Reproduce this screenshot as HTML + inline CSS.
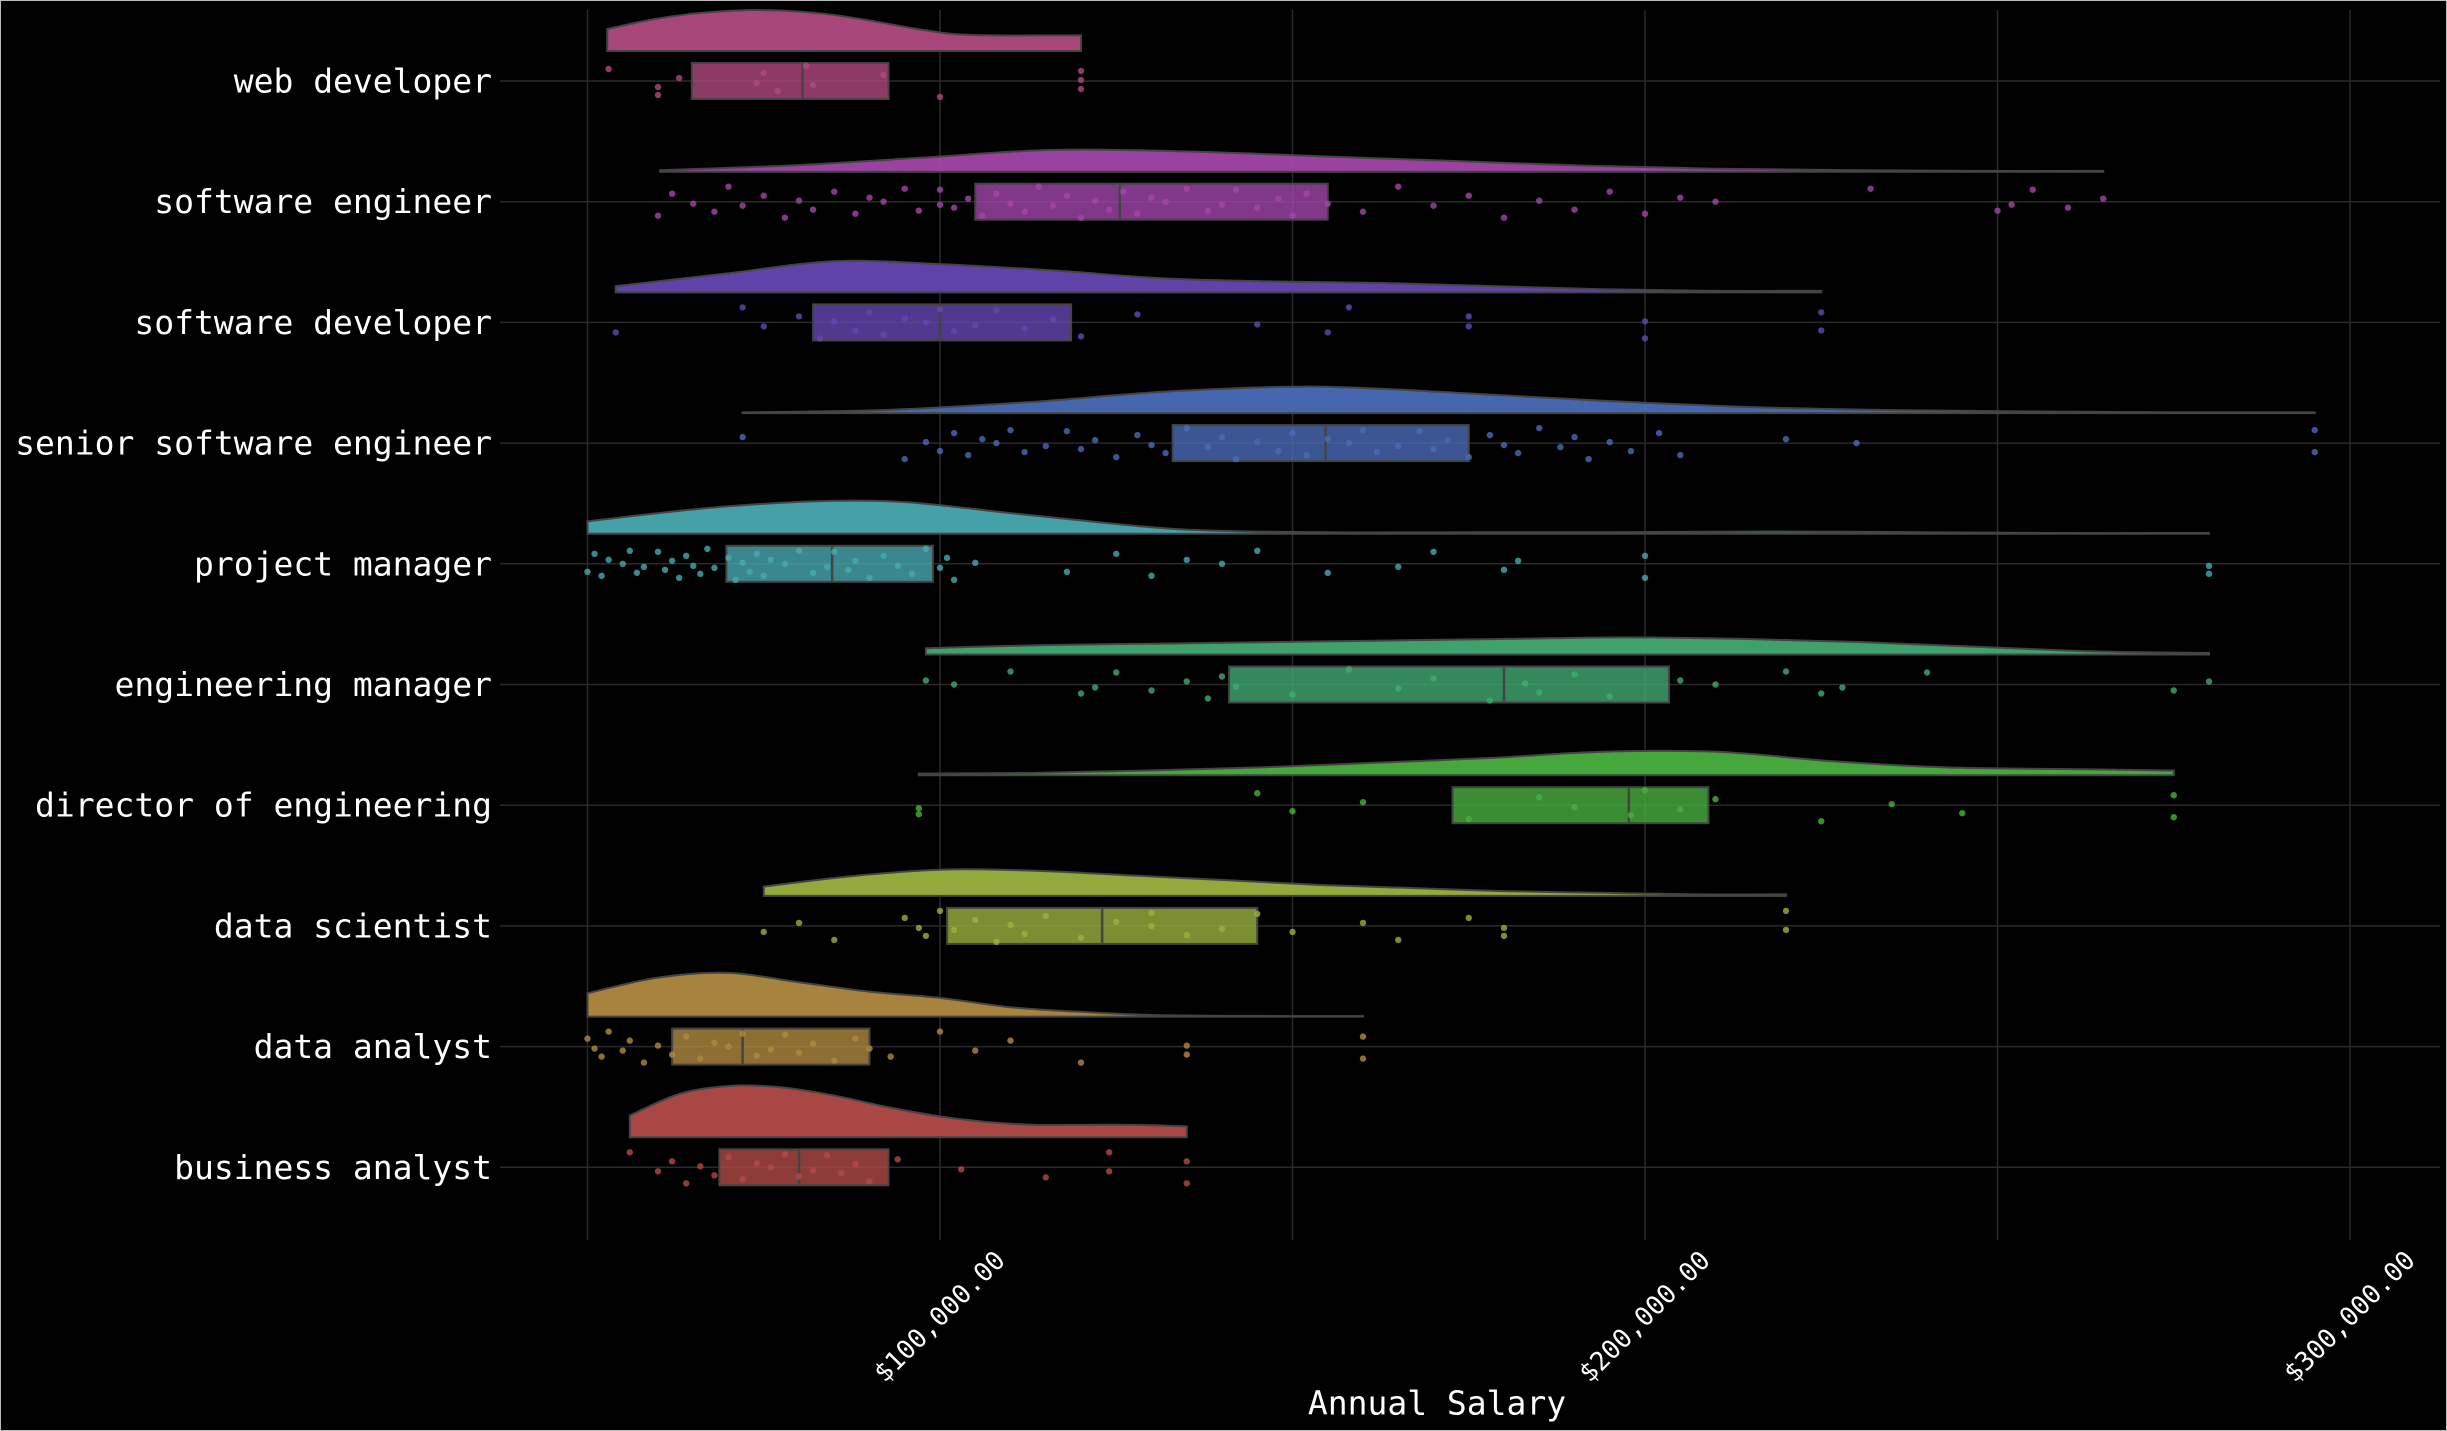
<!DOCTYPE html>
<html><head><meta charset="utf-8">
<style>
html,body{margin:0;padding:0;background:#000;}
svg{display:block;}
</style></head>
<body>
<svg id="chart" width="2447" height="1431" viewBox="0 0 2447 1431" xmlns="http://www.w3.org/2000/svg">
<rect x="0" y="0" width="2447" height="1431" fill="#000" stroke="#bbb" stroke-width="2"/>
<g id="grid"></g>
<g id="marks"></g>
<g id="axes"></g>
</svg>
<script>
const categories = ["web developer","software engineer","software developer","senior software engineer","project manager","engineering manager","director of engineering","data scientist","data analyst","business analyst"];
const colors = ["#b04a80","#a346aa","#6447b2","#4a6bb8","#49a9b0","#42aa72","#4ab040","#9bb23e","#b08a40","#b24b49"];
// box stats (thousand $)
const q1 = [64.8,105,82,133,69.7,141,172.7,101,62,68.7];
const medians = [80.5,125.5,100,154.7,84.7,180,197.7,123,72,80];
const q3 = [92.7,155,118.6,175,99,203.4,209,145,90,92.7];
// violin extents (thousand $)
const violinMin = [52.8,60.3,54,72,50,98,97,75,50,56];
const violinMax = [120,265,225,295,280,280,275,220,160,135];
// density heights (relative) at 12 evenly spaced points across each violin extent
const densities = [
 [14,20,24,26,26,24,20,15,11,10,10,10],
 [1,4,9,14,13,10,7,4,2,1,0.5,0.5],
 [4,12,20,18,14,9,7,6,4,2,1,1],
 [0.5,2,7,14,17,13,8,4,2,1,0.5,0.5],
 [8,18,21,12,3,1,1,1,1.5,1,0.5,0.5],
 [4,6,7,8,9,10,11,10,8,5,2,1],
 [1,1.5,3,5,8,11,15,15,9,5,4,3],
 [6,13,17,16,13,10,7,5,3,2,1,1],
 [15,25,28,22,16,12,6,3,1,0.5,0.3,0.3],
 [14,28,33,32,27,20,14,10,8,8,8,7]
];
// individual observations (thousand $)
const points = [
 [53,60,63,60,75,74,77,81,82,92,100,120,120,120],
 [60,62,65,68,70,72,75,78,80,82,85,88,90,92,95,97,100,100,102,104,106,108,110,112,114,116,118,120,122,124,126,128,130,132,135,138,140,142,145,148,150,152,155,160,165,170,175,180,185,190,195,200,205,210,232,250,252,255,260,265],
 [54,72,75,80,83,85,88,90,92,95,98,100,102,105,108,112,116,120,128,145,155,158,175,175,200,200,225,225],
 [72,95,98,100,102,104,106,108,110,112,115,118,120,122,125,128,130,132,135,138,140,142,145,148,150,152,155,158,160,162,165,168,170,172,175,178,180,182,185,188,190,192,195,198,202,205,220,230,295,295],
 [50,51,52,53,55,56,57,58,60,61,62,63,64,65,66,67,68,70,71,72,73,74,75,76,78,80,82,84,85,87,88,90,92,94,96,98,100,101,102,105,118,125,130,135,140,145,155,165,170,180,182,200,200,280,280],
 [98,102,110,120,122,125,130,135,138,140,142,150,158,165,170,178,183,185,190,195,205,210,220,225,228,240,275,280],
 [97,97,145,150,160,175,185,190,198,200,205,210,225,235,245,275,275],
 [75,80,85,95,97,98,100,102,105,108,110,112,115,120,125,130,130,135,140,145,150,160,165,175,180,180,220,220],
 [50,51,52,53,55,56,58,60,62,64,66,68,70,72,74,76,78,80,82,85,88,90,93,100,105,110,120,135,135,160,160],
 [56,60,62,64,66,68,70,72,74,76,78,80,82,84,86,88,90,94,103,115,124,124,135,135]
];
const xTicks = [100,200,300];
const xTickLabels = ["$100,000.00","$200,000.00","$300,000.00"];
const xGrid = [50,100,150,200,250,300];

const NS = "http://www.w3.org/2000/svg";
const X0 = 235, XS = 7.05;           // px per $1k
const x = v => X0 + v * XS;
const Y0 = 81, YS = 120.7;
const y = i => Y0 + i * YS;
const DENS_SCALE = 1.56;
const jitter = [-12,6,-3,14,-8,2,10,-15,4,-6,16,-1,8,-10,12,-4,0,-13,9,3];

function el(tag, attrs, parent){ const e=document.createElementNS(NS,tag); for(const k in attrs) e.setAttribute(k,attrs[k]); parent.appendChild(e); return e; }
const grid=document.getElementById('grid'), marks=document.getElementById('marks'), axes=document.getElementById('axes');

xGrid.forEach(v=>{
  const l=el('line',{x1:x(v),x2:x(v),y1:10,y2:1240,stroke:'#2a2a2a','stroke-width':1.5},grid);
  
  
});
categories.forEach((c,i)=>{
  const l=el('line',{x1:500,x2:2440,y1:y(i),y2:y(i),stroke:'#2a2a2a','stroke-width':1.5},grid);
  
  
});

function smoothPath(pts){
  let d='';
  for(let i=0;i<pts.length-1;i++){
    const p0=pts[Math.max(0,i-1)],p1=pts[i],p2=pts[i+1],p3=pts[Math.min(pts.length-1,i+2)];
    const c1x=p1[0]+(p2[0]-p0[0])/6,c1y=p1[1]+(p2[1]-p0[1])/6;
    const c2x=p2[0]-(p3[0]-p1[0])/6,c2y=p2[1]-(p3[1]-p1[1])/6;
    d+=` C${c1x},${c1y} ${c2x},${c2y} ${p2[0]},${p2[1]}`;
  }
  return d;
}

categories.forEach((c,i)=>{
  const g=el('g',{},marks);
  
  
  const base=y(i)-30, col=colors[i];
  const dens=densities[i], n=dens.length;
  const pts=dens.map((d,k)=>[x(violinMin[i]+(violinMax[i]-violinMin[i])*k/(n-1)), base-d*DENS_SCALE]);
  let d=`M${pts[0][0]},${base} L${pts[0][0]},${pts[0][1]}`+smoothPath(pts)+` L${pts[n-1][0]},${base} Z`;
  const v=el('path',{d:d,fill:col,'fill-opacity':0.95,stroke:'#444','stroke-width':2},g);
  
  
  const b=el('rect',{x:x(q1[i]),y:y(i)-18,width:x(q3[i])-x(q1[i]),height:36,fill:col,'fill-opacity':0.8,stroke:'#444','stroke-width':2},g);
  
  
  const m=el('line',{x1:x(medians[i]),x2:x(medians[i]),y1:y(i)-18,y2:y(i)+18,stroke:'#444','stroke-width':2.5},g);
  
  
  points[i].forEach((p,k)=>{
    const cc=el('circle',{cx:x(p),cy:y(i)+jitter[(k+i*3)%jitter.length],r:3.2,fill:col,'fill-opacity':0.8},g);
    
    
  });
  const t=el('text',{x:492,y:y(i),'text-anchor':'end','dominant-baseline':'central',fill:'#fff','font-size':33,'font-family':'"DejaVu Sans Mono","Liberation Mono",monospace'},axes);
  t.textContent=c;
  
  
});

xTicks.forEach((v,k)=>{
  const cx=x(v), cy=1317;
  const t=el('text',{x:cx,y:cy,'text-anchor':'middle','dominant-baseline':'central',fill:'#fff','font-size':26,'font-family':'"DejaVu Sans Mono","Liberation Mono",monospace',transform:`rotate(-45 ${cx} ${cy})`},axes);
  t.textContent=xTickLabels[k];
  
  
});
const xt=el('text',{x:1437,y:1403,'text-anchor':'middle','dominant-baseline':'central',fill:'#fff','font-size':33,'font-family':'"DejaVu Sans Mono","Liberation Mono",monospace'},axes);
xt.textContent='Annual Salary';


</script>
</body></html>
